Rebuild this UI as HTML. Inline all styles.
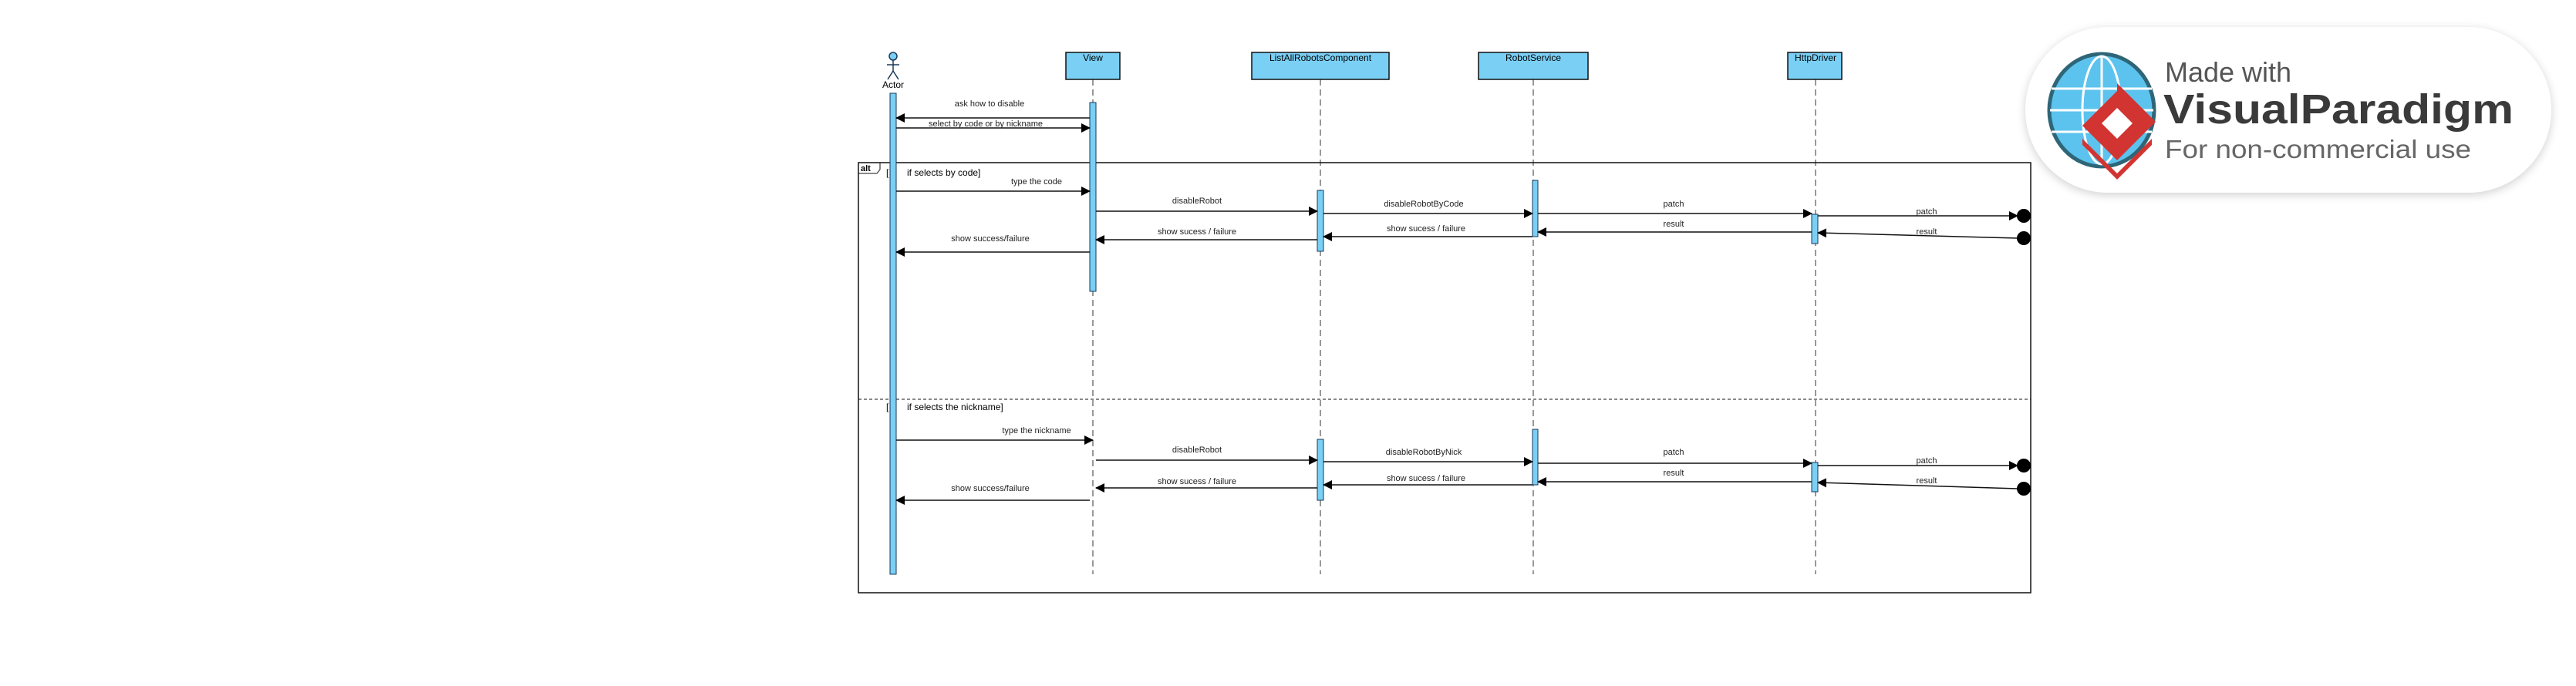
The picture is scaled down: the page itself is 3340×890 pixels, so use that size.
<!DOCTYPE html>
<html><head><meta charset="utf-8"><style>
html,body{margin:0;padding:0;background:#fff;}
svg{display:block;font-family:"Liberation Sans",Arial,sans-serif;}
</style></head><body>
<svg width="3340" height="890" viewBox="0 0 3340 890" xmlns="http://www.w3.org/2000/svg">
<defs>
<marker id="a" markerWidth="12" markerHeight="12" refX="11" refY="6" orient="auto" markerUnits="userSpaceOnUse"><path d="M0,0 L12,6 L0,12 z" fill="#000"/></marker>
<filter id="sh" x="-10%" y="-20%" width="120%" height="140%"><feGaussianBlur stdDeviation="6"/></filter>
</defs>
<rect width="3340" height="890" fill="#fff"/>
<!-- lifelines -->
<g stroke="#333" stroke-width="1" stroke-dasharray="8,5">
<line x1="1417" y1="103" x2="1417" y2="745"/>
<line x1="1712" y1="103" x2="1712" y2="745"/>
<line x1="1988" y1="103" x2="1988" y2="745"/>
<line x1="2354" y1="103" x2="2354" y2="745"/>
</g>
<!-- actor -->
<g stroke="#1a3a5a" stroke-width="1.5" fill="none">
<ellipse cx="1158" cy="73" rx="5" ry="5" fill="#7acff5"/>
<line x1="1158" y1="78" x2="1158" y2="92"/>
<line x1="1150" y1="84" x2="1166" y2="84"/>
<line x1="1158" y1="92" x2="1151" y2="103"/>
<line x1="1158" y1="92" x2="1165" y2="103"/>
</g>
<text x="1158" y="114" font-size="12" text-anchor="middle">Actor</text>
<!-- heads -->
<g fill="#7acff5" stroke="#111" stroke-width="1.5">
<rect x="1382" y="68" width="70" height="35"/>
<rect x="1623" y="68" width="178" height="35"/>
<rect x="1917" y="68" width="142" height="35"/>
<rect x="2318" y="68" width="70" height="35"/>
</g>
<g font-size="12" text-anchor="middle">
<text x="1417" y="79">View</text>
<text x="1712" y="79">ListAllRobotsComponent</text>
<text x="1988" y="79">RobotService</text>
<text x="2354" y="79">HttpDriver</text>
</g>
<!-- frame -->
<rect x="1113" y="211" width="1520" height="558" fill="none" stroke="#111" stroke-width="1.5"/>
<path d="M1113,225 L1137,225 L1141,220 L1141,211" fill="none" stroke="#111" stroke-width="1"/>
<text x="1116" y="222" font-size="11" font-weight="bold">alt</text>
<line x1="1113" y1="518" x2="2633" y2="518" stroke="#111" stroke-width="1" stroke-dasharray="4,3"/>
<g font-size="12">
<text x="1149" y="228">[</text><text x="1176" y="228">if selects by code]</text>
<text x="1149" y="532">[</text><text x="1176" y="532">if selects the nickname]</text>
</g>
<!-- activations -->
<g fill="#7acff5" stroke="#1a3a5a" stroke-width="1">
<rect x="1154" y="121" width="8" height="624"/>
<rect x="1413" y="133" width="8" height="245"/>
<rect x="1708" y="247" width="8" height="79"/>
<rect x="1987" y="234" width="7" height="73"/>
<rect x="2349" y="278" width="8" height="38"/>
<rect x="1708" y="570" width="8" height="79"/>
<rect x="1987" y="557" width="7" height="72"/>
<rect x="2349" y="600" width="8" height="38"/>
</g>
<!-- messages -->
<g stroke="#111" stroke-width="1.5" fill="none" marker-end="url(#a)">
<line x1="1413" y1="153" x2="1162" y2="153"/>
<line x1="1162" y1="166" x2="1413" y2="166"/>
<line x1="1162" y1="248" x2="1413" y2="248"/>
<line x1="1421" y1="274" x2="1708" y2="274"/>
<line x1="1716" y1="277" x2="1987" y2="277"/>
<line x1="1994" y1="277" x2="2349" y2="277"/>
<line x1="2357" y1="280" x2="2616" y2="280"/>
<line x1="2616" y1="309" x2="2357" y2="302"/>
<line x1="2349" y1="301" x2="1994" y2="301"/>
<line x1="1987" y1="307" x2="1716" y2="307"/>
<line x1="1708" y1="311" x2="1421" y2="311"/>
<line x1="1413" y1="327" x2="1162" y2="327"/>

<line x1="1162" y1="571" x2="1417" y2="571"/>
<line x1="1421" y1="597" x2="1708" y2="597"/>
<line x1="1716" y1="599" x2="1987" y2="599"/>
<line x1="1994" y1="601" x2="2349" y2="601"/>
<line x1="2357" y1="604" x2="2616" y2="604"/>
<line x1="2616" y1="634" x2="2357" y2="626"/>
<line x1="2349" y1="625" x2="1994" y2="625"/>
<line x1="1987" y1="629" x2="1716" y2="629"/>
<line x1="1708" y1="633" x2="1421" y2="633"/>
<line x1="1413" y1="649" x2="1162" y2="649"/>
</g>
<g fill="#000">
<circle cx="2624" cy="280" r="9"/><circle cx="2624" cy="309" r="9"/>
<circle cx="2624" cy="604" r="9"/><circle cx="2624" cy="634" r="9"/>
</g>
<g font-size="11" text-anchor="middle" fill="#222">
<text x="1283" y="138">ask how to disable</text>
<text x="1278" y="164">select by code or by nickname</text>
<text x="1344" y="239">type the code</text>
<text x="1552" y="264">disableRobot</text>
<text x="1846" y="268">disableRobotByCode</text>
<text x="2170" y="268">patch</text>
<text x="2498" y="278">patch</text>
<text x="2170" y="294">result</text>
<text x="2498" y="304">result</text>
<text x="1849" y="300">show sucess / failure</text>
<text x="1552" y="304">show sucess / failure</text>
<text x="1284" y="313">show success/failure</text>

<text x="1344" y="562">type the nickname</text>
<text x="1552" y="587">disableRobot</text>
<text x="1846" y="590">disableRobotByNick</text>
<text x="2170" y="590">patch</text>
<text x="2498" y="601">patch</text>
<text x="2170" y="617">result</text>
<text x="2498" y="627">result</text>
<text x="1849" y="624">show sucess / failure</text>
<text x="1552" y="628">show sucess / failure</text>
<text x="1284" y="637">show success/failure</text>
</g>
<!-- logo -->
<rect x="2626" y="38" width="682" height="215" rx="107" fill="#000" opacity="0.18" filter="url(#sh)"/>
<rect x="2626" y="35" width="682" height="215" rx="107" fill="#fff"/>
<g>
<ellipse cx="2725" cy="143" rx="68" ry="73" fill="#5cc3ee" stroke="#2e6677" stroke-width="5"/>
<g stroke="#fff" stroke-width="3" fill="none">
<line x1="2660" y1="115" x2="2790" y2="115"/>
<line x1="2658" y1="143" x2="2792" y2="143"/>
<line x1="2660" y1="171" x2="2790" y2="171"/>
<ellipse cx="2725" cy="143" rx="25" ry="70"/>
<line x1="2725" y1="72" x2="2725" y2="214"/>
</g>
<path d="M2745,108 L2795,158 L2745,208 L2700,163 L2745,118 z" fill="#d23431"/>
<path d="M2745,140 L2765,160 L2745,180 L2725,160 z" fill="#fff"/>
<path d="M2700,180 L2745,225 L2790,180 L2790,188 L2745,233 L2700,188z" fill="#d23431"/>
</g>
<text x="2807" y="106" font-size="36" fill="#555">Made with</text>
<text x="2805" y="160" font-size="54" font-weight="bold" fill="#3a3a3a" textLength="454" lengthAdjust="spacingAndGlyphs">VisualParadigm</text>
<text x="2807" y="205" font-size="33" fill="#666" textLength="397" lengthAdjust="spacingAndGlyphs">For non-commercial use</text>
</svg>
</body></html>
